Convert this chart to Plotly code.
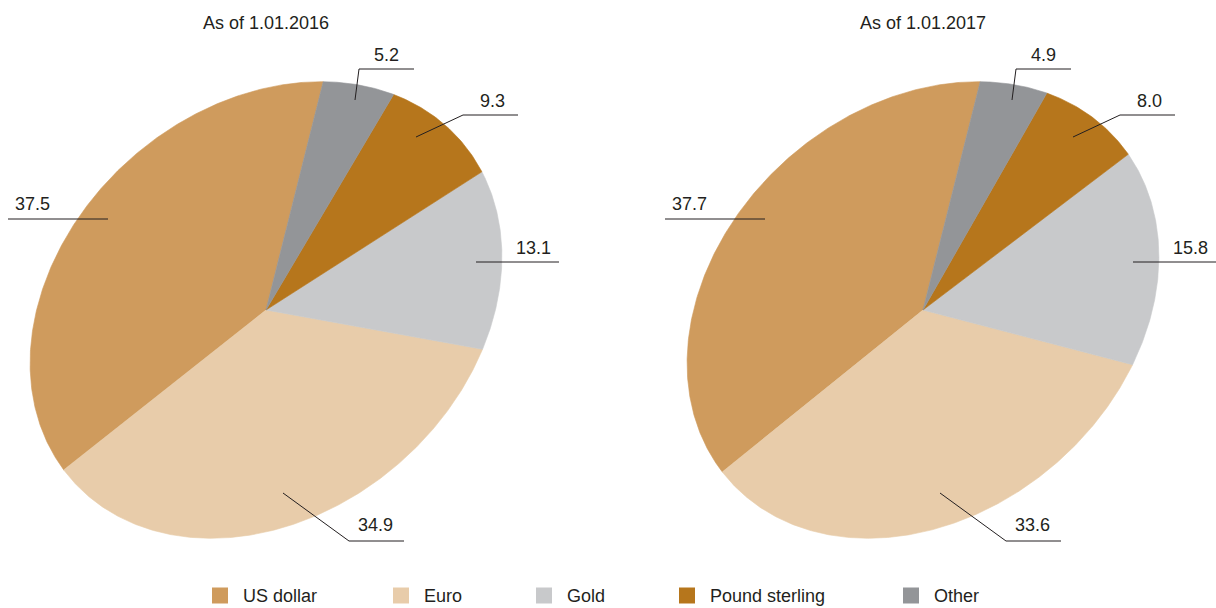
import math
import plotly.graph_objects as go

# ---------------- data ----------------
categories = ["US dollar", "Euro", "Gold", "Pound sterling", "Other"]
values_2016 = [37.5, 34.9, 13.1, 9.3, 5.2]
values_2017 = [37.7, 33.6, 15.8, 8.0, 4.9]
titles = ["As of 1.01.2016", "As of 1.01.2017"]
colors = ["#CF9B5D", "#E8CCAA", "#C8C9CB", "#B6761C", "#939598"]

# ---------------- layout constants (pixel space) ----------------
W, H = 1216, 608
FONT = "Liberation Sans, Arial, Helvetica, sans-serif"
TXT = "#231F20"
CENTERS = [(266, 310), (923, 310)]
A_AX, B_AX = 258.0, 203.0      # ellipse semi-axes
TILT = math.radians(41)         # tilt of major axis
START = 41.6                    # start angle (deg) of first slice

# leader geometry relative to pie centre (screen dx, dy) and label position
LEADERS = {
    "US dollar": dict(pts=[(-158, -91), (-258, -91)], tx=-253, ty=-106, anchor="left"),
    "Euro": dict(pts=[(17, 183), (83, 231), (138, 231)], tx=109, ty=215, anchor="center"),
    "Gold": dict(pts=[(210, -48), (293, -48)], tx=267, ty=-62, anchor="center"),
    "Pound sterling": dict(pts=[(150, -173), (197, -195), (252, -195)], tx=226, ty=-209, anchor="center"),
    "Other": dict(pts=[(89, -210), (93, -241), (148, -241)], tx=120, ty=-255, anchor="center"),
}

LEGEND_CX = [220, 401, 544, 687, 911]   # swatch centres
LEGEND_CY = 595.5
LEGEND_TEXT_GAP = 21


def ellipse_point(cx, cy, t_deg, r=1.0):
    t = math.radians(t_deg)
    u = A_AX * r * math.cos(t)
    v = B_AX * r * math.sin(t)
    x = u * math.cos(TILT) - v * math.sin(TILT)
    y = u * math.sin(TILT) + v * math.cos(TILT)
    return cx + x, cy - y


fig = go.Figure()
annotations = []

for (cx, cy), title, values in zip(CENTERS, titles, [values_2016, values_2017]):
    total = sum(values)
    t0 = START
    for cat, val, col in zip(categories, values, colors):
        span = 360.0 * val / total
        n = max(6, int(span * 2))
        xs, ys = [cx], [cy]
        for k in range(n + 1):
            px, py = ellipse_point(cx, cy, t0 + span * k / n)
            xs.append(px)
            ys.append(py)
        xs.append(cx)
        ys.append(cy)
        fig.add_trace(go.Scatter(
            x=xs, y=ys, mode="lines", fill="toself", fillcolor=col,
            line=dict(color=col, width=0.6), showlegend=False,
            name=cat, hoverinfo="text", text=f"{cat}: {val:.1f}",
        ))
        t0 += span

    # leader lines and value labels
    for cat, val in zip(categories, values):
        ld = LEADERS[cat]
        fig.add_trace(go.Scatter(
            x=[cx + p[0] for p in ld["pts"]], y=[cy + p[1] for p in ld["pts"]],
            mode="lines", line=dict(color=TXT, width=1), showlegend=False, hoverinfo="skip",
        ))
        annotations.append(dict(
            x=cx + ld["tx"], y=cy + ld["ty"], xref="x", yref="y", text=f"{val:.1f}",
            showarrow=False, xanchor=ld["anchor"], yanchor="middle",
            font=dict(family=FONT, size=18, color=TXT),
        ))

    annotations.append(dict(
        x=cx, y=23, xref="x", yref="y", text=title, showarrow=False,
        xanchor="center", yanchor="middle", font=dict(family=FONT, size=18, color=TXT),
    ))

# legend (drawn as swatches + labels at fixed positions)
fig.add_trace(go.Scatter(
    x=LEGEND_CX, y=[LEGEND_CY] * len(categories), mode="markers",
    marker=dict(symbol="square", size=16, color=colors, line=dict(width=0)),
    showlegend=False, hoverinfo="text", text=categories,
))
for cat, lcx in zip(categories, LEGEND_CX):
    annotations.append(dict(
        x=lcx + LEGEND_TEXT_GAP, y=LEGEND_CY, xref="x", yref="y", text=cat,
        showarrow=False, xanchor="left", yanchor="middle",
        font=dict(family=FONT, size=18, color=TXT),
    ))

fig.update_layout(
    width=W, height=H, margin=dict(l=0, r=0, t=0, b=0),
    paper_bgcolor="white", plot_bgcolor="white", showlegend=False,
    xaxis=dict(range=[0, W], visible=False, fixedrange=True, domain=[0, 1]),
    yaxis=dict(range=[H, 0], visible=False, fixedrange=True, domain=[0, 1]),
    annotations=annotations,
)

fig.write_html("out.html", config={"displayModeBar": False},
               post_script="document.body.style.margin='0';")
